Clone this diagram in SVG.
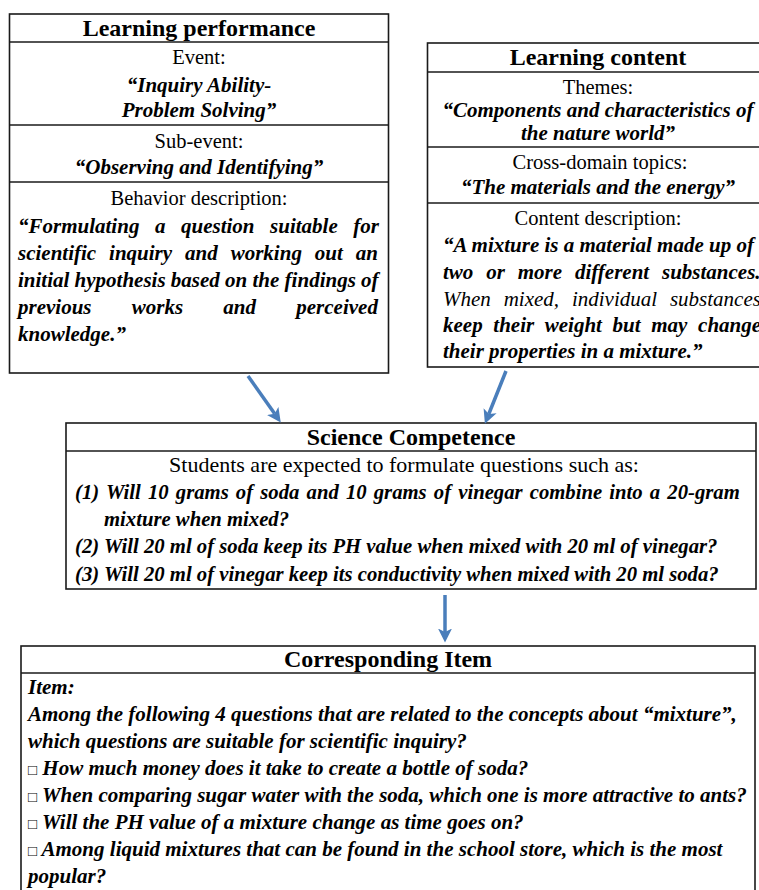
<svg xmlns="http://www.w3.org/2000/svg" width="759" height="890" viewBox="0 0 759 890">
<style>
text{font-family:"Liberation Serif","Times New Roman",serif;fill:#000}
.t{font-size:24px;font-weight:bold;text-anchor:middle}
.r{font-size:20.5px;text-anchor:middle}
.bi{font-size:21px;font-weight:bold;font-style:italic}
.c{text-anchor:middle}
.i{font-size:21px;font-style:italic}
.m{font-size:20.7px;font-weight:bold;font-style:italic}
.box{fill:#fff;stroke:#1a1a1a;stroke-width:1.6}
.div{stroke:#1a1a1a;stroke-width:1.6}
.arr{stroke:#4a7ebb;stroke-width:3.5;fill:none;marker-end:url(#ah)}
.sq{font-size:15px;font-weight:normal;font-style:normal}
</style>
<defs>
<marker id="ah" viewBox="0 0 12 12" refX="3" refY="6" markerWidth="14" markerHeight="14" markerUnits="userSpaceOnUse" orient="auto">
<path d="M0,0 L12,6 L0,12 L3,6 z" fill="#4a7ebb"/>
</marker>
</defs>
<rect width="759" height="890" fill="#fff"/>

<g id="learning-performance">
<rect class="box" x="9.5" y="14" width="379" height="359"/>
<line class="div" x1="9.5" y1="42" x2="388.5" y2="42"/>
<line class="div" x1="9.5" y1="125" x2="388.5" y2="125"/>
<line class="div" x1="9.5" y1="182" x2="388.5" y2="182"/>
<text class="t" x="199" y="36">Learning performance</text>
<text class="r" x="199" y="64">Event:</text>
<text class="bi c" x="199" y="92">“Inquiry Ability-</text>
<text class="bi c" x="199" y="117">Problem Solving”</text>
<text class="r" x="199" y="148">Sub-event:</text>
<text class="bi c" x="199" y="174">“Observing and Identifying”</text>
<text class="r" x="199" y="205">Behavior description:</text>
<text class="bi" x="18" y="233" style="word-spacing:10.3px">“Formulating a question suitable for</text>
<text class="bi" x="18" y="260" style="word-spacing:7.7px">scientific inquiry and working out an</text>
<text class="bi" x="18" y="287">initial hypothesis based on the findings of</text>
<text class="bi" x="18" y="314" style="word-spacing:35px">previous works and perceived</text>
<text class="bi" x="18" y="341">knowledge.”</text>
</g>

<g id="learning-content">
<rect class="box" x="427.5" y="43" width="342" height="324"/>
<line class="div" x1="427.5" y1="72" x2="769.5" y2="72"/>
<line class="div" x1="427.5" y1="147" x2="769.5" y2="147"/>
<line class="div" x1="427.5" y1="203" x2="769.5" y2="203"/>
<text class="t" x="598" y="65">Learning content</text>
<text class="r" x="598" y="94">Themes:</text>
<text class="bi c" x="598" y="117">“Components and characteristics of</text>
<text class="bi c" x="598" y="140">the nature world”</text>
<text class="r" x="600" y="169">Cross-domain topics:</text>
<text class="bi c" x="598" y="194">“The materials and the energy”</text>
<text class="r" x="598" y="225">Content description:</text>
<text class="bi" x="443" y="252">“A mixture is a material made up of</text>
<text class="bi" x="443" y="279" style="word-spacing:7.6px">two or more different substances.</text>
<text class="i" x="443" y="306" style="word-spacing:7.6px">When mixed, individual substances</text>
<text class="bi" x="443" y="332" style="word-spacing:5.4px">keep their weight but may change</text>
<text class="bi" x="443" y="358">their properties in a mixture.”</text>
</g>

<g id="science-competence">
<rect class="box" x="66" y="423" width="690" height="166"/>
<line class="div" x1="66" y1="451" x2="756" y2="451"/>
<text class="t" x="411" y="445">Science Competence</text>
<text class="r" x="404" y="472" style="font-size:22px">Students are expected to formulate questions such as:</text>
<text class="m" x="75" y="499" style="word-spacing:2px">(1) Will 10 grams of soda and 10 grams of vinegar combine into a 20-gram</text>
<text class="m" x="104" y="526">mixture when mixed?</text>
<text class="m" x="75" y="553">(2) Will 20 ml of soda keep its PH value when mixed with 20 ml of vinegar?</text>
<text class="m" x="75" y="581">(3) Will 20 ml of vinegar keep its conductivity when mixed with 20 ml soda?</text>
</g>

<g id="corresponding-item">
<rect class="box" x="21" y="646" width="734" height="260"/>
<line class="div" x1="21" y1="673" x2="755" y2="673"/>
<text class="t" x="388" y="667">Corresponding Item</text>
<text class="bi" x="28" y="694">Item:</text>
<text class="bi" x="28" y="721">Among the following 4 questions that are related to the concepts about “mixture”,</text>
<text class="bi" x="28" y="748">which questions are suitable for scientific inquiry?</text>
<text class="bi" x="28" y="775"><tspan class="sq">□</tspan> How much money does it take to create a bottle of soda?</text>
<text class="bi" x="28" y="802"><tspan class="sq">□</tspan> When comparing sugar water with the soda, which one is more attractive to ants?</text>
<text class="bi" x="28" y="829"><tspan class="sq">□</tspan> Will the PH value of a mixture change as time goes on?</text>
<text class="bi" x="28" y="856"><tspan class="sq">□</tspan> Among liquid mixtures that can be found in the school store, which is the most</text>
<text class="bi" x="28" y="883">popular?</text>
</g>

<g id="connectors">
<line class="arr" x1="248" y1="376" x2="274.7" y2="413.8"/>
<line class="arr" x1="506" y1="371" x2="488.8" y2="414"/>
<line class="arr" x1="445" y1="595" x2="445" y2="632"/>
</g>
</svg>
